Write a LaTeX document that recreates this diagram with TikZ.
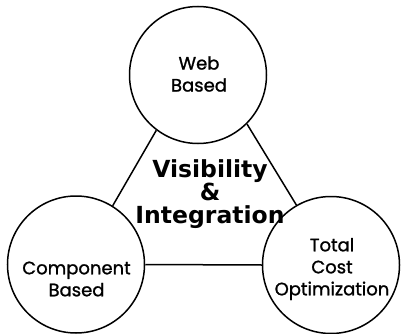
\documentclass[tikz,border=0pt]{standalone}
\usepackage{fontspec}
\newfontfamily\lblfont[FakeBold=1.2]{Poppins}
\newfontfamily\boldsans{DejaVu Sans}
\begin{document}
\begin{tikzpicture}[x=1pt,y=-1pt,
  circ/.style={circle,draw,line width=1.5pt,minimum size=137pt,inner sep=0pt},
  lbl/.style={align=center,font=\lblfont\fontsize{18}{22}\selectfont},
  big/.style={align=center,font=\boldsans\bfseries\fontsize{23.5}{23}\selectfont},
  link/.style={line width=1.5pt}]
\useasboundingbox (0,0) rectangle (401,334);
\node[circ] (web) at (198,75) {};
\node[circ] (comp) at (76,264.5) {};
\node[circ] (tco) at (331,265) {};
\draw[link] (web.-127) -- (comp.58);
\draw[link] (web.-45) -- (tco.120);
\draw[link] (comp.east) -- (tco.west);
\node[lbl] (webt) at (199,74) {Web\\Based};
\node[lbl] (compt) at (76.5,279) {Component\\Based};
\node[lbl] (tcot) at (332,269) {Total\\Cost\\Optimization};
\node[big] (vis) at (210,194) {Visibility\\\&\\Integration};
\end{tikzpicture}
\end{document}
